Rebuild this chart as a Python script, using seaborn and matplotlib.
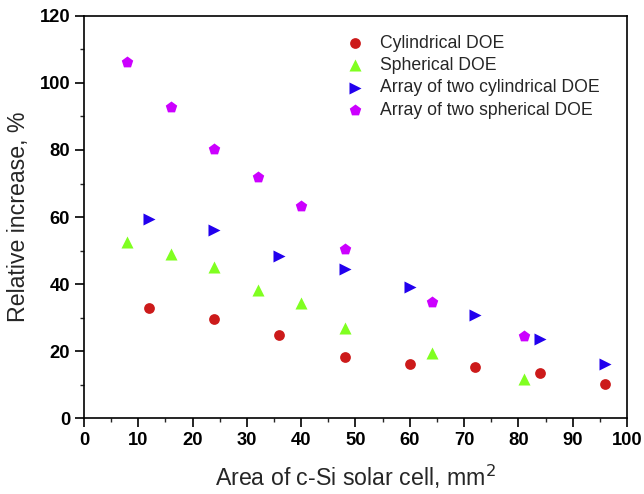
import matplotlib
matplotlib.use("Agg")
import matplotlib.pyplot as plt
import seaborn as sns
import pandas as pd
from matplotlib.ticker import MultipleLocator

# Data
cyl_x = [12, 24, 36, 48, 60, 72, 84, 96]
cyl_y = [32.9, 29.5, 24.7, 18.4, 16.2, 15.4, 13.6, 10.1]
sph_x = [8, 16, 24, 32, 40, 48, 64, 81]
sph_y = [52.5, 49.0, 45.1, 38.4, 34.5, 27.0, 19.4, 11.6]
acyl_x = [12, 24, 36, 48, 60, 72, 84, 96]
acyl_y = [59.4, 56.1, 48.4, 44.4, 39.1, 30.7, 23.7, 16.3]
asph_x = [8, 16, 24, 32, 40, 48, 64, 81]
asph_y = [106.1, 92.7, 80.3, 71.8, 63.4, 50.6, 34.6, 24.5]

series_names = ["Cylindrical DOE", "Spherical DOE",
                "Array of two cylindrical DOE", "Array of two spherical DOE"]

frames = []
for name, xs, ys in zip(series_names, [cyl_x, sph_x, acyl_x, asph_x],
                        [cyl_y, sph_y, acyl_y, asph_y]):
    frames.append(pd.DataFrame({"x": xs, "y": ys, "series": name}))
df = pd.concat(frames, ignore_index=True)

palette = {"Cylindrical DOE": "#CC1A1A",
           "Spherical DOE": "#80FF20",
           "Array of two cylindrical DOE": "#2200EE",
           "Array of two spherical DOE": "#CC00FF"}
markers = {"Cylindrical DOE": "o",
           "Spherical DOE": "^",
           "Array of two cylindrical DOE": ">",
           "Array of two spherical DOE": "p"}
sizes_pt = {"Cylindrical DOE": 60, "Spherical DOE": 75,
            "Array of two cylindrical DOE": 75, "Array of two spherical DOE": 75}

sns.set_style("ticks")
plt.rcParams['font.family'] = ['Liberation Sans', 'DejaVu Sans']

fig = plt.figure(figsize=(6.44, 4.94), dpi=100)
ax = fig.add_axes([0.1304, 0.1532, 0.8432, 0.8148])

for name in series_names:
    sub = df[df["series"] == name]
    sns.scatterplot(data=sub, x="x", y="y", color=palette[name],
                    marker=markers[name], s=sizes_pt[name], linewidth=0,
                    ax=ax, label=name)

ax.set_xlim(0, 100)
ax.set_ylim(0, 120)
ax.xaxis.set_major_locator(MultipleLocator(10))
ax.xaxis.set_minor_locator(MultipleLocator(5))
ax.yaxis.set_major_locator(MultipleLocator(20))
ax.yaxis.set_minor_locator(MultipleLocator(10))
ax.tick_params(which="major", direction="out", length=6.5, width=1.2,
               top=False, right=False, colors="black")
ax.tick_params(which="minor", direction="out", length=3.2, width=1.0,
               top=False, right=False)
for sp in ax.spines.values():
    sp.set_linewidth(1.2)
    sp.set_color("black")
    sp.set_visible(True)

for lab in ax.get_xticklabels() + ax.get_yticklabels():
    lab.set_fontweight("bold")
    lab.set_fontsize(13.2)

ax.set_xlabel("Area of c-Si solar cell, mm$^2$", fontsize=16.7, labelpad=10)
ax.set_ylabel("Relative increase, %", fontsize=16.7, labelpad=7)

leg = ax.legend(loc="upper left", bbox_to_anchor=(0.4666, 0.971), frameon=False,
                fontsize=12.7, handlelength=1.2, handletextpad=0.81,
                labelspacing=0.31, borderaxespad=0.0)

fig.savefig("out.png", dpi=100)
